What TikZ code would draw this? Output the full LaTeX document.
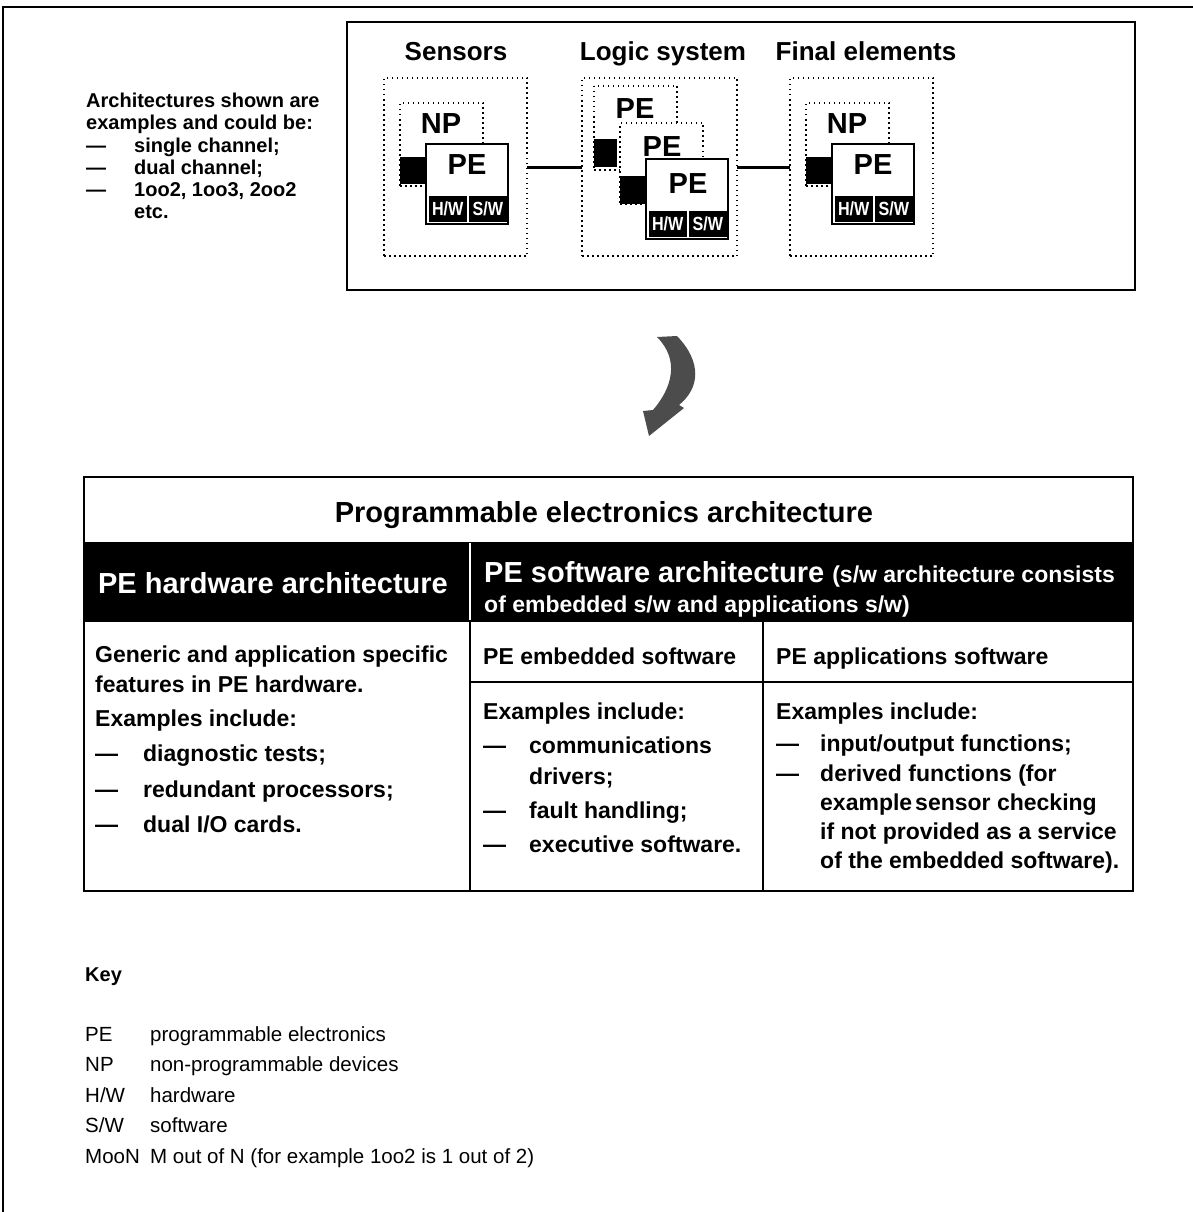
\documentclass[tikz,border=0pt]{standalone}
\usepackage{fontspec}
\setmainfont{Liberation Sans}
\newfontfamily\cellfont[FakeStretch=0.85]{Liberation Sans}
\usetikzlibrary{positioning,calc}
\newcommand{\pxfont}[1]{\fontsize{#1}{#1}\selectfont}
\newcommand{\itemdash}[1][48pt]{\makebox[#1][l]{---}}
\tikzset{grp/.style={draw, line width=2pt, dash pattern=on 1.5pt off 3.5pt, fill=white,
inner sep=0pt, outer sep=0pt, anchor=north west},
pebox/.style={draw, line width=2pt, fill=white, inner sep=0pt, outer sep=0pt,
anchor=north west, minimum width=82pt, minimum height=80pt},
port/.style={fill=black, inner sep=0pt, outer sep=0pt, anchor=north west,
minimum width=26pt, minimum height=27pt},
hwsw/.style={fill=black, draw=white, line width=1.5pt, text=white, inner sep=0pt,
anchor=south west, minimum width=40pt, minimum height=27pt, font=\cellfont\bfseries\pxfont{19}},
tag/.style={font=\bfseries\pxfont{29}, inner sep=0pt, anchor=base},
colhd/.style={font=\bfseries\pxfont{26}, inner sep=0pt, anchor=base},
link/.style={line width=3pt},
note/.style={font=\bfseries\pxfont{20}, inner sep=0pt, anchor=base west},
cell/.style={draw, line width=2pt, inner sep=0pt, outer sep=0pt, anchor=north west},
darkcell/.style={fill=black, inner sep=0pt, outer sep=0pt, anchor=north west},
big/.style={font=\bfseries\pxfont{29}, inner sep=0pt},
body/.style={font=\bfseries\pxfont{23}, inner sep=0pt, anchor=base west},
keytxt/.style={font=\pxfont{20.5}, inner sep=0pt, anchor=base west},
curlarrow/.style={fill=black!70}}

\begin{document}
\begin{tikzpicture}[x=1pt,y=-1pt]
  \useasboundingbox (0,0) rectangle (1193,1212);
  \draw [line width=2.5pt] (3,1212) -- (3,7) -- (1193,7);

  % note on the left
  \foreach \y/\t [count=\i] in {108/Architectures shown are, 129/examples and could be:,
    152/{\itemdash single channel;}, 174/{\itemdash dual channel;},
    196/{\itemdash 1oo2, 1oo3, 2oo2}, 218/{\hspace*{48pt}etc.}}
    \node [note] (arch\i) at (86,\y) {\t};

  % system box
  \node [cell, minimum width=788pt, minimum height=268pt] (sysbox) at (347,22) {};
  \node [colhd] (senhd) at (456,61) {Sensors};
  \node [colhd] (loghd) at (663,61) {Logic system};
  \node [colhd] (finhd) at (866,61) {Final elements};

  \foreach \n/\dx in {sen/0,fin/406} {
    \node [grp, minimum width=143pt, minimum height=178pt] (\n-grp) at (384+\dx,78) {};
    \node [grp, minimum width=83pt, minimum height=83pt] (\n-np) at (400+\dx,103) {};
    \node [tag] (\n-nptag) at (441+\dx,134) {NP};
    \node [port] (\n-port) at (400+\dx,157) {};
    \node [pebox] (\n-pe) at (426+\dx,144) {};
    \node [tag] (\n-petag) at (467+\dx,174) {PE};
    \node [hwsw] (\n-hw) at (427+\dx,223) {H/W};
    \node [hwsw] (\n-sw) at (467+\dx,223) {S/W};
    \draw [line width=2pt] (\n-pe.north west) rectangle (\n-pe.south east);
  }

  \node [grp, minimum width=155pt, minimum height=178pt] (log-grp) at (582,78) {};
  \node [grp, minimum width=83pt, minimum height=84pt] (log-a) at (594,86) {};
  \node [tag] (log-atag) at (635,118) {PE};
  \node [port, minimum width=23pt, minimum height=28pt] (log-pa) at (594,139) {};
  \node [grp, minimum width=83pt, minimum height=81pt] (log-b) at (620,123) {};
  \node [tag] (log-btag) at (662,156) {PE};
  \node [port, minimum width=26pt, minimum height=28pt] (log-pb) at (620,176) {};
  \node [pebox] (log-pe) at (646,159) {};
  \node [tag] (log-petag) at (688,193) {PE};
  \node [hwsw] (log-hw) at (647,238) {H/W};
  \node [hwsw] (log-sw) at (687,238) {S/W};
  \draw [line width=2pt] (log-pe.north west) rectangle (log-pe.south east);

  \draw [link] (sen-grp.east) -- (log-grp.west);
  \draw [link] (log-grp.east) -- (fin-grp.west);

  % arrow
  \fill [curlarrow] (657,337) -- (677,336) .. controls (702,362) and (700,388) .. (679,405)
    -- (684,408) -- (649,436) -- (643,411) -- (653,410)
    .. controls (672,388) and (680,360) .. (657,337) -- cycle;

  % table
  \node [cell, minimum width=1049pt, minimum height=66pt] (title) at (84,477) {};
  \node [big, anchor=base] (titletxt) at (604,522) {Programmable electronics architecture};
  \node [darkcell, minimum width=386pt, minimum height=78pt] (hwhd) at (84,543) {};
  \node [darkcell, minimum width=663pt, minimum height=78pt] (swhd) at (470,543) {};
  \draw [white, line width=2pt] (hwhd.north east) -- (hwhd.south east);
  \node [big, text=white, anchor=base] (hwhdtxt) at (273,593) {PE hardware architecture};
  \node [big, text=white, anchor=base west] (swhdtxt) at (484,582)
    {PE software architecture {\pxfont{23}(s/w architecture consists}};
  \node [big, text=white, anchor=base west, font=\bfseries\pxfont{23}] (swhdtxt2) at (484,612)
    {of embedded s/w and applications s/w)};

  \node [cell, minimum width=386pt, minimum height=270pt] (hwbody) at (84,621) {};
  \node [cell, minimum width=293pt, minimum height=61pt] (embhd) at (470,621) {};
  \node [cell, minimum width=370pt, minimum height=61pt] (apphd) at (763,621) {};
  \node [cell, minimum width=293pt, minimum height=209pt] (embbody) at (470,682) {};
  \node [cell, minimum width=370pt, minimum height=209pt] (appbody) at (763,682) {};
  \draw [line width=2pt] (title.north west) rectangle (appbody.south east);

  \node [body] (embhdtxt) at (483,664) {PE embedded software};
  \node [body] (apphdtxt) at (776,664) {PE applications software};

  \foreach \y/\t [count=\i] in {662/Generic and application specific,
    692/features in PE hardware., 726/Examples include:,
    761/{\itemdash diagnostic tests;}, 797/{\itemdash redundant processors;},
    832/{\itemdash dual I/O cards.}}
    \node [body] (hwtxt\i) at (95,\y) {\t};

  \foreach \y/\t [count=\i] in {719/Examples include:,
    753/{\itemdash[46pt]communications}, 784/{\hspace*{46pt}drivers;},
    818/{\itemdash[46pt]fault handling;}, 852/{\itemdash[46pt]executive software.}}
    \node [body] (embtxt\i) at (483,\y) {\t};

  \foreach \y/\t [count=\i] in {719/Examples include:,
    751/{\itemdash[44pt]input/output functions;},
    781/{\itemdash[44pt]derived functions (for},
    810/{\hspace*{44pt}example\kern3pt sensor checking},
    839/{\hspace*{44pt}if not provided as a service},
    868/{\hspace*{44pt}of the embedded software).}}
    \node [body] (apptxt\i) at (776,\y) {\t};

  % key
  \node [note] (keyhd) at (85,981) {Key};
  \foreach \ab/\de/\y [count=\i] in {PE/programmable electronics/1041,
    NP/non-programmable devices/1071, {H/W}/hardware/1102,
    {S/W}/software/1132, MooN/{M out of N (for example 1oo2 is 1 out of 2)}/1163} {
    \node [keytxt] (keyab\i) at (85,\y) {\ab};
    \node [keytxt] (keyde\i) at (150,\y) {\de};
  }
\end{tikzpicture}
\end{document}
